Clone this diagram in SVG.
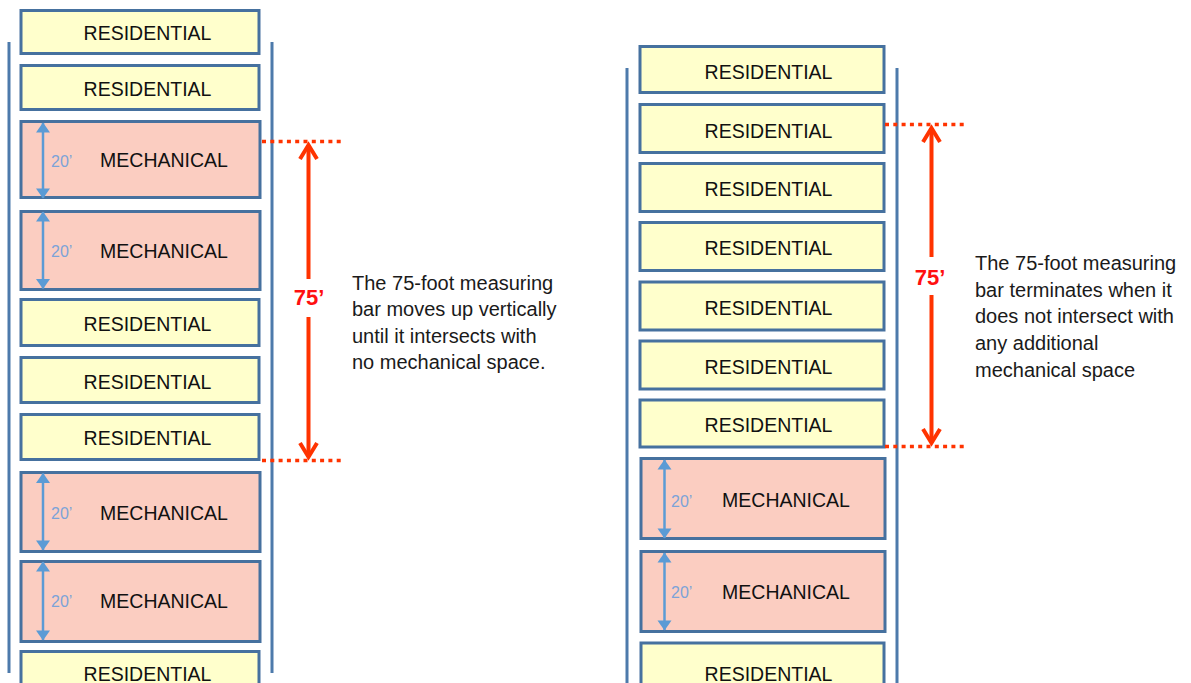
<svg xmlns="http://www.w3.org/2000/svg" width="1191" height="683" viewBox="0 0 1191 683">
<style>
.res{fill:#FFFFCC;stroke:#46719F;stroke-width:3}
.mech{fill:#FBCDC1;stroke:#46719F;stroke-width:3}
.wall{stroke:#4D7AAB;stroke-width:3;fill:none}
.lbl{font-family:"Liberation Sans",Arial,sans-serif;font-size:19.5px;fill:#111;text-anchor:middle}
.dim{font-family:"Liberation Sans",Arial,sans-serif;font-size:16px;fill:#7BA3D8}
.big{font-family:"Liberation Sans",Arial,sans-serif;font-size:22px;font-weight:bold;fill:#FF1010;text-anchor:middle}
.para{font-family:"Liberation Sans",Arial,sans-serif;font-size:20px;fill:#1a1a1a}
.blue{stroke:#5B9BD5;stroke-width:2.5;fill:none;marker-start:url(#bh);marker-end:url(#bh)}
.red{stroke:#FF3300;stroke-width:4;fill:none;marker-end:url(#rh)}
.dot{stroke:#FF3300;stroke-width:3.5;stroke-dasharray:4 4.3;fill:none}
</style>
<defs>
<marker id="bh" markerUnits="userSpaceOnUse" viewBox="-11 -8 12 16" refX="0" refY="0" markerWidth="12" markerHeight="16" orient="auto-start-reverse">
<path d="M0.5,0 L-9.5,-7 L-9.5,7 Z" fill="#5B9BD5"/>
</marker>
<marker id="rh" markerUnits="userSpaceOnUse" viewBox="-18 -12 22 24" refX="0" refY="0" markerWidth="22" markerHeight="24" orient="auto">
<path d="M-14,-8.5 L0,0 L-14,8.5" fill="none" stroke="#FF3300" stroke-width="4"/>
</marker>
</defs>
<rect width="1191" height="683" fill="#fff"/>

<g id="left-walls">
<line class="wall" x1="9" y1="42" x2="9" y2="673"/>
<line class="wall" x1="272" y1="42" x2="272" y2="673"/>
</g>
<g id="L1"><rect class="res" x="21" y="10.5" width="238" height="43"/><text class="lbl" x="147.5" y="40">RESIDENTIAL</text></g>
<g id="L2"><rect class="res" x="21" y="65.5" width="238" height="44"/><text class="lbl" x="147.5" y="95.5">RESIDENTIAL</text></g>
<g id="L3"><rect class="mech" x="21" y="121.5" width="239" height="76"/><text class="lbl" x="164" y="166.5">MECHANICAL</text><text class="dim" x="51" y="166.5">20’</text></g>
<g id="L4"><rect class="mech" x="21" y="211.5" width="239" height="78"/><text class="lbl" x="164" y="258">MECHANICAL</text><text class="dim" x="51" y="257">20’</text></g>
<g id="L5"><rect class="res" x="21" y="299.5" width="238" height="46"/><text class="lbl" x="147.5" y="331">RESIDENTIAL</text></g>
<g id="L6"><rect class="res" x="21" y="357.5" width="238" height="45"/><text class="lbl" x="147.5" y="389">RESIDENTIAL</text></g>
<g id="L7"><rect class="res" x="21" y="414.5" width="238" height="45"/><text class="lbl" x="147.5" y="445">RESIDENTIAL</text></g>
<g id="L8"><rect class="mech" x="21" y="472.5" width="239" height="79"/><text class="lbl" x="164" y="519.5">MECHANICAL</text><text class="dim" x="51" y="519.3">20’</text></g>
<g id="L9"><rect class="mech" x="21" y="561.5" width="239" height="80"/><text class="lbl" x="164" y="608">MECHANICAL</text><text class="dim" x="51" y="607.3">20’</text></g>
<g id="L10"><rect class="res" x="21" y="651.5" width="238" height="50"/><text class="lbl" x="147.5" y="681">RESIDENTIAL</text></g>
<g id="L-note">
<text class="para" x="352" y="289.5">The 75-foot measuring</text>
<text class="para" x="352" y="316">bar moves up vertically</text>
<text class="para" x="352" y="342.5">until it intersects with</text>
<text class="para" x="352" y="369">no mechanical space.</text>
</g>
<text class="big" x="309" y="305">75’</text>

<g id="right-walls">
<line class="wall" x1="627" y1="68" x2="627" y2="683"/>
<line class="wall" x1="897" y1="68" x2="897" y2="683"/>
</g>
<g id="R1"><rect class="res" x="640" y="46.5" width="244" height="46"/><text class="lbl" x="768.5" y="78.5">RESIDENTIAL</text></g>
<g id="R2"><rect class="res" x="640" y="104.5" width="244" height="48"/><text class="lbl" x="768.5" y="137.5">RESIDENTIAL</text></g>
<g id="R3"><rect class="res" x="640" y="163.5" width="244" height="48"/><text class="lbl" x="768.5" y="196">RESIDENTIAL</text></g>
<g id="R4"><rect class="res" x="640" y="222.5" width="244" height="48"/><text class="lbl" x="768.5" y="255">RESIDENTIAL</text></g>
<g id="R5"><rect class="res" x="640" y="282" width="244" height="48"/><text class="lbl" x="768.5" y="314.5">RESIDENTIAL</text></g>
<g id="R6"><rect class="res" x="640" y="341" width="244" height="48"/><text class="lbl" x="768.5" y="373.5">RESIDENTIAL</text></g>
<g id="R7"><rect class="res" x="640" y="400" width="244" height="47"/><text class="lbl" x="768.5" y="432">RESIDENTIAL</text></g>
<g id="R8"><rect class="mech" x="641" y="458.5" width="244" height="80"/><text class="lbl" x="786" y="506.5">MECHANICAL</text><text class="dim" x="671" y="506.7">20’</text></g>
<g id="R9"><rect class="mech" x="641" y="551.5" width="244" height="80"/><text class="lbl" x="786" y="598.5">MECHANICAL</text><text class="dim" x="671" y="598.3">20’</text></g>
<g id="R10"><rect class="res" x="641" y="643" width="243" height="50"/><text class="lbl" x="768.5" y="681">RESIDENTIAL</text></g>
<g id="R-note">
<text class="para" x="975" y="270">The 75-foot measuring</text>
<text class="para" x="975" y="296.7">bar terminates when it</text>
<text class="para" x="975" y="323.3">does not intersect with</text>
<text class="para" x="975" y="350">any additional</text>
<text class="para" x="975" y="376.7">mechanical space</text>
</g>
<text class="big" x="930" y="285">75’</text>

<g id="connectors">
<line class="blue" x1="43" y1="123" x2="43" y2="198"/>
<line class="blue" x1="43" y1="212" x2="43" y2="288.5"/>
<line class="blue" x1="43" y1="473.5" x2="43" y2="550"/>
<line class="blue" x1="43" y1="562" x2="43" y2="640"/>
<line class="blue" x1="664.5" y1="460" x2="664.5" y2="538"/>
<line class="blue" x1="664.5" y1="553" x2="664.5" y2="630"/>
<line class="dot" x1="262" y1="141.5" x2="342" y2="141.5"/>
<line class="dot" x1="262" y1="460.5" x2="342" y2="460.5"/>
<line class="red" x1="308.5" y1="279" x2="308.5" y2="145"/>
<line class="red" x1="308.5" y1="317" x2="308.5" y2="457"/>
<line class="dot" x1="885" y1="124.5" x2="966" y2="124.5"/>
<line class="dot" x1="885" y1="446.5" x2="966" y2="446.5"/>
<line class="red" x1="931.5" y1="257" x2="931.5" y2="128"/>
<line class="red" x1="931.5" y1="295" x2="931.5" y2="443"/>
</g>
</svg>
